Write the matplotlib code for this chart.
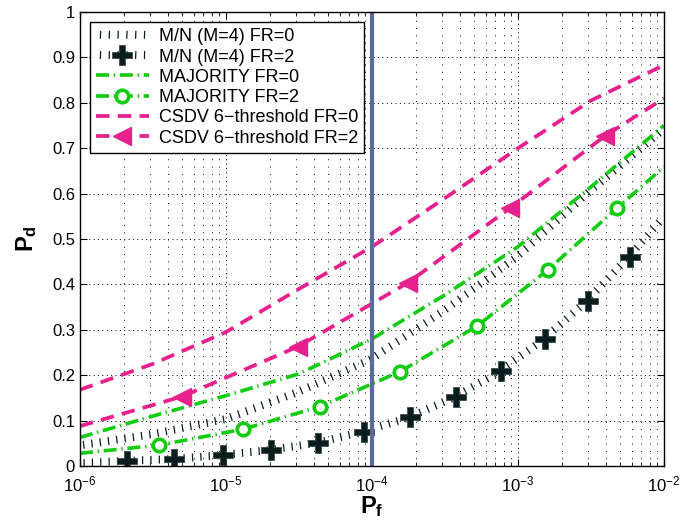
import numpy as np
import matplotlib
matplotlib.use('Agg')
import matplotlib.pyplot as plt
import matplotlib.patheffects as pe
from matplotlib.ticker import FuncFormatter, LogLocator, NullLocator

plt.rcParams['font.family'] = ['Liberation Sans', 'DejaVu Sans']
plt.rcParams['mathtext.fontset'] = 'custom'
plt.rcParams['mathtext.rm'] = 'Liberation Sans'
plt.rcParams['mathtext.bf'] = 'Liberation Sans:bold'

# FR=0 curves, read at half decades
pf_grid = [1e-6, 3.16e-6, 1e-5, 3.16e-5, 1e-4, 3.16e-4, 1e-3, 3.16e-3, 1e-2]
mn_fr0 = [0.045, 0.07, 0.103, 0.163, 0.235, 0.342, 0.46, 0.605, 0.74]
maj_fr0 = [0.063, 0.11, 0.155, 0.203, 0.28, 0.377, 0.483, 0.615, 0.75]
csdv_fr0 = [0.168, 0.225, 0.295, 0.39, 0.483, 0.59, 0.70, 0.805, 0.883]

# FR=2 curves: end points + marker points
mn_pf = [1e-6, 2.1e-6, 4.4e-6, 9.5e-6, 2.03e-5, 4.27e-5, 8.8e-5, 1.82e-4,
         3.76e-4, 7.65e-4, 1.53e-3, 3.0e-3, 5.85e-3, 1e-2]
mn_fr2 = [0.006, 0.011, 0.015, 0.024, 0.035, 0.051, 0.076, 0.107,
          0.152, 0.209, 0.279, 0.363, 0.46, 0.545]
maj_pf = [1e-6, 3.48e-6, 1.31e-5, 4.4e-5, 1.56e-4, 5.24e-4, 1.6e-3, 4.76e-3, 1e-2]
maj_fr2 = [0.028, 0.046, 0.081, 0.131, 0.208, 0.308, 0.432, 0.568, 0.659]
csdv_pf = [1e-6, 5.0e-6, 3.11e-5, 1.77e-4, 8.8e-4, 3.94e-3, 1e-2]
csdv_fr2 = [0.088, 0.153, 0.263, 0.404, 0.568, 0.727, 0.81]

pf_limit = 1e-4
labels = ['M/N (M=4) FR=0', 'M/N (M=4) FR=2', 'MAJORITY FR=0', 'MAJORITY FR=2',
          'CSDV 6\u2212threshold FR=0', 'CSDV 6\u2212threshold FR=2']

black = '#0b1c1c'
green = '#12cc12'
pink = '#e8208e'

def ticked():
    # matlab thick dotted line renders as short ticks
    return [pe.TickedStroke(offset=(0, -2.3), spacing=6, angle=88,
                            length=0.8, linewidth=0.9)]

fig = plt.figure(figsize=(6.8, 5.31), dpi=100)
ax = fig.add_axes([0.1176, 0.1224, 0.8589, 0.855])

l1, = ax.plot(pf_grid, mn_fr0, color=black, ls='-', lw=1, path_effects=ticked())
l2, = ax.plot(mn_pf, mn_fr2, color=black, ls='-', lw=1, path_effects=ticked())
m2, = ax.plot(mn_pf[1:-1], mn_fr2[1:-1], ls='none', marker='P', ms=14,
              color=black, mec='#3c4c4c', mew=0.6)
l3, = ax.plot(pf_grid, maj_fr0, color=green, lw=2.6, dash_capstyle='butt',
              dashes=(3.6, 1.3, 0.4, 1.3))
l4, = ax.plot(maj_pf, maj_fr2, color=green, lw=2.6, dash_capstyle='butt',
              dashes=(3.6, 1.3, 0.4, 1.3), marker='o', markevery=slice(1, -1),
              ms=9, mfc='white', mew=2.6)
l5, = ax.plot(pf_grid, csdv_fr0, color=pink, lw=2.7, dash_capstyle='butt',
              dashes=(3.6, 2.2))
l6, = ax.plot(csdv_pf, csdv_fr2, color=pink, lw=2.7, dash_capstyle='butt',
              dashes=(3.6, 2.2), marker='<', markevery=slice(1, -1), ms=13)

ax.axvline(pf_limit, color='#5a6a9a', lw=3)

ax.set_xscale('log')
ax.set_xlim(1e-6, 1e-2)
ax.set_ylim(0, 1)
ax.set_yticks(np.arange(0, 1.01, 0.1))
ax.yaxis.set_major_formatter(FuncFormatter(
    lambda v, p: '%g' % round(v, 1)))
ax.yaxis.set_minor_locator(NullLocator())
ax.xaxis.set_minor_locator(LogLocator(base=10, subs=np.arange(2, 10)))
ax.tick_params(which='both', direction='in', top=True, right=True, labelsize=12)
ax.tick_params(which='major', length=5)
ax.tick_params(which='minor', length=3)
ax.tick_params(axis='x', pad=6)
ax.grid(True, which='major', ls=(0, (1, 3.5)), lw=0.7, color='k')
ax.grid(True, which='minor', axis='x', ls=(0, (1, 6.5)), lw=0.7, color='k')
for s in ax.spines.values():
    s.set_linewidth(1)
    s.set_color('k')

ax.set_xlabel(r'$\mathbf{P_f}$', fontsize=17, labelpad=0)
ax.set_ylabel(r'$\mathbf{P_d}$', fontsize=17, labelpad=9)

leg = ax.legend([l1, (l2, m2), l3, l4, l5, l6], labels, loc='upper left',
                fontsize=13, handlelength=2.9, handletextpad=0.55,
                labelspacing=0.18, borderpad=0.35, borderaxespad=0.55,
                fancybox=False, framealpha=1, edgecolor='k')
leg.get_frame().set_linewidth(1)

fig.savefig('out.png', dpi=100)
